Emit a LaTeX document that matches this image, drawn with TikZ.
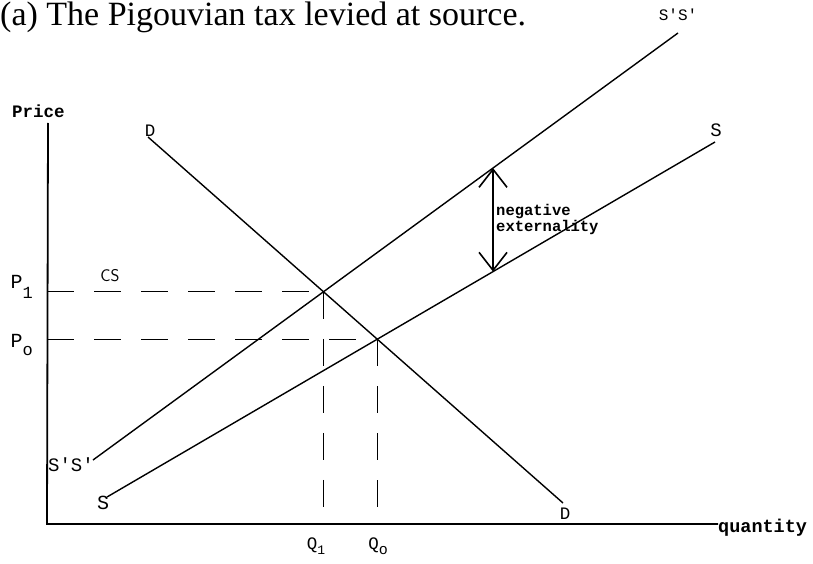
\documentclass[tikz,border=0pt]{standalone}
\usepackage{fontspec}
\setmainfont{Liberation Serif}
\newfontfamily\tw{Liberation Mono}
\usetikzlibrary{arrows.meta}
\begin{document}
\begin{tikzpicture}[x=1pt,y=-1pt,
  curve/.style={line width=1.4pt},
  axis/.style={line width=1.8pt},
  guide/.style={line width=1.2pt, dash pattern=on 27pt off 20pt},
  lbl/.style={font=\tw\fontsize{17.5}{17.5}\selectfont, inner sep=0pt},
  barb/.style={{Straight Barb[length=18pt,width=28pt,line width=1.6pt]}-{Straight Barb[length=18pt,width=28pt,line width=1.6pt]}, line width=1.2pt}
  ]
\useasboundingbox (0,0) rectangle (813,564);
\node[anchor=west, font=\fontsize{34}{34}\selectfont, inner sep=0pt] (title) at (0,17) {(a) The Pigouvian tax levied at source.};

% axes
\coordinate (O) at (47,524);
\coordinate (ytop) at (48,123);
\coordinate (xend) at (718,524);
\draw[axis] (ytop) -- (O) -- (xend);
\node[lbl, anchor=south west, font=\tw\bfseries\fontsize{17.5}{17.5}\selectfont] (price) at (12,118) {Price};
\node[lbl, anchor=west, font=\tw\bfseries\fontsize{18.5}{18.5}\selectfont] (qty) at (718,528) {quantity};

% curve end points
\coordinate (D1) at (148,137);
\coordinate (D2) at (563,503);
\coordinate (T1) at (93,460);
\coordinate (T2) at (678,33);
\coordinate (S1) at (107,497);
\coordinate (S2) at (715,142);

\draw[curve] (D1) -- (D2);
\draw[curve] (T1) -- (T2);
\draw[curve] (S1) -- (S2);

\node[lbl] (Dtop) at (150,131) {D};
\node[lbl] (Dbot) at (565,514) {D};
\node[lbl, font=\tw\fontsize{19}{19}\selectfont] (SSbot) at (71,465) {S'S'};
\node[lbl, font=\tw\fontsize{20}{20}\selectfont] (Sbot) at (103,503) {S};
\node[lbl, font=\tw\fontsize{16}{16}\selectfont] (SStop) at (678,15) {S'S'};
\node[lbl, font=\tw\fontsize{19}{19}\selectfont] (Stop) at (716,130) {S};

% equilibria
\coordinate (E1) at (intersection of D1--D2 and T1--T2);
\coordinate (E0) at (intersection of D1--D2 and S1--S2);
\coordinate (P1) at (O |- E1);
\coordinate (P0) at (O |- E0);
\coordinate (Q1) at (O -| E1);
\coordinate (Q0) at (O -| E0);
\draw[guide] (P1) -- (E1);
\draw[guide] (P0) -- (E0);
\draw[guide] (E1) -- (Q1);
\draw[guide] (E0) -- (Q0);

\node[lbl, anchor=east, font=\tw\fontsize{20}{20}\selectfont] (P1l) at (33,287) {P\raisebox{-10pt}{\fontsize{17}{17}\selectfont 1}};
\node[lbl, anchor=east, font=\tw\fontsize{20}{20}\selectfont] (P0l) at (33,345) {P\raisebox{-8pt}{\fontsize{17}{17}\selectfont o}};
\node[lbl] (Q1l) at (316,546) {Q\raisebox{-5pt}{\fontsize{13}{13}\selectfont 1}};
\node[lbl] (Q0l) at (378,546) {Q\raisebox{-5pt}{\fontsize{15}{15}\selectfont o}};
\node[lbl, font=\fontsize{17}{17}\selectfont\sffamily] (CS) at (110,276) {CS};

% externality arrow
\coordinate (A1) at (intersection of T1--T2 and 493,0--493,600);
\coordinate (A2) at (intersection of S1--S2 and 493,0--493,600);
\draw[barb] (A1) -- (A2);
\node[lbl, anchor=north west, align=left, font=\tw\bfseries\fontsize{15.5}{16}\selectfont] (neg) at (496,204) {negative\\externality};
\end{tikzpicture}
\end{document}
